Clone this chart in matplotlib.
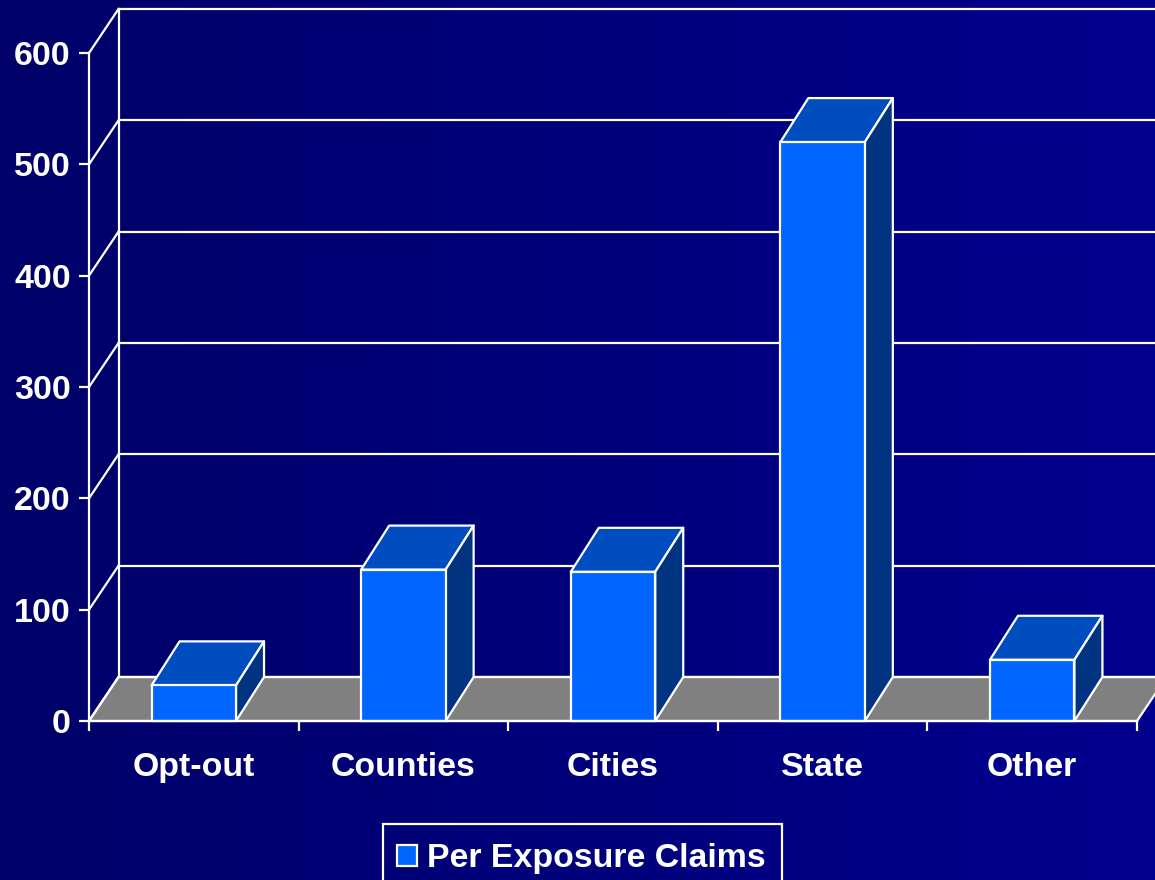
import matplotlib
matplotlib.use("Agg")
import matplotlib.pyplot as plt
from matplotlib.patches import Polygon, Rectangle
import numpy as np

categories = ["Opt-out", "Counties", "Cities", "State", "Other"]
claims = [32, 136, 134, 520, 55]
yticks = [0, 100, 200, 300, 400, 500, 600]
series_name = "Per Exposure Claims"

white = "#FFFFFF"
front = "#0066FF"
top = "#004DC0"
side = "#003380"
floor = "#808080"
lw = 1.6

plt.rcParams["font.family"] = ["Liberation Sans", "DejaVu Sans"]
plt.rcParams["font.weight"] = "bold"

fig = plt.figure(figsize=(11.55, 8.8), dpi=100)
ax = fig.add_axes([0, 0, 1, 1])

# scale of the plot: pixels per category and per unit
px_x = 209.6
px_y = 668 / 600
ax.set_xlim(-0.5 - 89 / px_x, -0.5 + (1155 - 89) / px_x)
ax.set_ylim(-(880 - 721) / px_y, 721 / px_y)

# the fake 3d depth of walls and bars
wall_dx = 29.5 / px_x
bar_dx = 28 / px_x
depth = 44 / px_y
width = 0.403

# background gradient, dark on the left
grad = np.linspace(0, 1, 256).reshape(1, -1)
cmap = matplotlib.colors.LinearSegmentedColormap.from_list("bg", ["#000068", "#00008E"])
ax.imshow(grad, extent=[*ax.get_xlim(), *ax.get_ylim()], aspect="auto", cmap=cmap, zorder=0)

x0, x1 = -0.5, len(categories) - 0.5
ax.add_patch(Polygon([(x0, 0), (x1, 0), (x1 + wall_dx, depth), (x0 + wall_dx, depth)],
                     facecolor=floor, edgecolor=white, lw=lw, zorder=1))

for t in yticks:
    ax.plot([x0, x0 + wall_dx], [t, t + depth], color=white, lw=lw, zorder=2)
    ax.plot([x0 + wall_dx, x1 + wall_dx], [t + depth, t + depth], color=white, lw=lw, zorder=2)
ax.plot([x0 + wall_dx, x0 + wall_dx], [depth, yticks[-1] + depth], color=white, lw=lw, zorder=2)

xs = np.arange(len(categories))
bars = ax.bar(xs, claims, width=width, color=front, edgecolor=white, lw=lw, zorder=4, label=series_name)
for x, v in zip(xs, claims):
    l, r = x - width / 2, x + width / 2
    ax.add_patch(Polygon([(l, v), (r, v), (r + bar_dx, v + depth), (l + bar_dx, v + depth)],
                         facecolor=top, edgecolor=white, lw=lw, zorder=3, joinstyle="round"))
    ax.add_patch(Polygon([(r, 0), (r + bar_dx, depth), (r + bar_dx, v + depth), (r, v)],
                         facecolor=side, edgecolor=white, lw=lw, zorder=3, joinstyle="round"))

for s in ["top", "right"]:
    ax.spines[s].set_visible(False)
ax.spines["left"].set_position(("data", x0))
ax.spines["left"].set_bounds(0, yticks[-1])
ax.spines["bottom"].set_position(("data", 0))
ax.spines["bottom"].set_bounds(x0, x1)
for s in ["left", "bottom"]:
    ax.spines[s].set_color(white)
    ax.spines[s].set_linewidth(lw)
    ax.spines[s].set_zorder(5)

ax.set_yticks(yticks)
ax.set_xticks(xs)
ax.set_xticklabels(categories)
ax.set_xticks(np.arange(len(categories) + 1) - 0.5, minor=True)
ax.tick_params(axis="y", colors=white, labelsize=24.5, length=7.2, width=lw, pad=6)
ax.tick_params(axis="x", which="major", colors=white, labelsize=24.4, length=0, pad=22)
ax.tick_params(axis="x", which="minor", color=white, length=7.2, width=lw)

# legend box runs off the bottom of the picture, so its frame is drawn apart
ax.add_patch(Rectangle((383 / 1155, -10 / 880), (782 - 383) / 1155, (880 - 824 + 10) / 880,
                       transform=ax.transAxes, facecolor="none", edgecolor=white, lw=lw, zorder=6))
ax.legend(handles=[bars], loc="upper left", bbox_to_anchor=(383 / 1155, 1 - 829 / 880),
          fontsize=24.4, frameon=False, labelcolor=white, handlelength=0.58, handleheight=0.6,
          handletextpad=0.3, borderpad=0.42, borderaxespad=0)

fig.savefig("out.png", dpi=100)
